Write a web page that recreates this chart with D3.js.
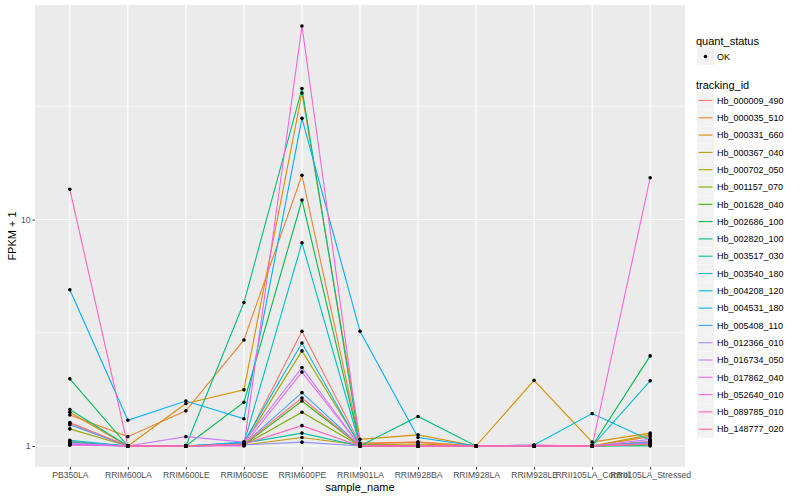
<!DOCTYPE html>
<html>
<head>
	<script type="text/javascript" src="https://cdn.jsdelivr.net/npm/d3@7"></script>
	<style type="text/css">
		body { margin: 0; background: white; }
		text { font-family: "Liberation Sans", Arial, sans-serif; }
		.axis text { font-size: 8.6px; fill: #4D4D4D; }
		.axis line { stroke: #333333; }
		.axis path { display: none; }
	</style>
</head>
<body>
	<script type="text/javascript">
		// samples on the x axis
		var samples = ["PB350LA", "RRIM600LA", "RRIM600LE", "RRIM600SE", "RRIM600PE", "RRIM901LA",
			"RRIM928BA", "RRIM928LA", "RRIM928LE", "RRII105LA_Control", "RRII105LA_Stressed"];

		var tracking_ids = ["Hb_000009_490", "Hb_000035_510", "Hb_000331_660", "Hb_000367_040", "Hb_000702_050",
			"Hb_001157_070", "Hb_001628_040", "Hb_002686_100", "Hb_002820_100", "Hb_003517_030",
			"Hb_003540_180", "Hb_004208_120", "Hb_004531_180", "Hb_005408_110", "Hb_012366_010",
			"Hb_016734_050", "Hb_017862_040", "Hb_052640_010", "Hb_089785_010", "Hb_148777_020"];

		var colors = ["#F8766D", "#EA8331", "#D89000", "#C09B00", "#A3A500", "#7CAE00", "#39B600", "#00BB4E",
			"#00BF7D", "#00C1A3", "#00BFC4", "#00BAE0", "#00B0F6", "#35A2FF", "#9590FF", "#C77CFF",
			"#E76BF3", "#FA62DB", "#FF62BC", "#FF6C91"];

		// FPKM + 1, one array per tracking_id, in sample order
		var fpkm = [
			[1.26, 1, 1, 1.02, 3.21, 1.02, 1.04, 1, 1, 1, 1.05],
			[1.37, 1.10, 1.43, 2.94, 15.7, 1.03, 1.04, 1, 1, 1, 1.10],
			[1.41, 1, 1.54, 1.77, 36.2, 1.07, 1.12, 1, 1.95, 1.04, 1.14],
			[1.05, 1, 1, 1.01, 1.09, 1.01, 1.02, 1, 1, 1, 1.12],
			[1.19, 1, 1, 1.02, 2.63, 1.01, 1, 1, 1, 1, 1.03],
			[1.02, 1, 1, 1.01, 1.41, 1, 1, 1, 1, 1, 1.01],
			[1.03, 1, 1, 1.01, 1.58, 1, 1, 1, 1, 1, 1.02],
			[1.98, 1, 1, 1.56, 12.2, 1.01, 1, 1, 1, 1, 2.5],
			[1.45, 1, 1, 4.3, 37.9, 1, 1.35, 1, 1, 1, 1.0],
			[1.04, 1, 1, 1.03, 1.14, 1, 1, 1, 1, 1, 1.02],
			[1.02, 1, 1, 1.03, 7.9, 1, 1, 1, 1, 1, 1.94],
			[1.06, 1, 1, 1.04, 2.85, 1, 1, 1, 1.01, 1.39, 1.06],
			[4.9, 1.3, 1.58, 1.32, 28.0, 3.21, 1.09, 1, 1, 1, 1.03],
			[1.24, 1, 1, 1.02, 1.72, 1, 1, 1, 1, 1, 1.04],
			[1.01, 1, 1, 1.01, 1.04, 1, 1, 1, 1, 1, 1.03],
			[1.03, 1, 1.1, 1.04, 2.22, 1, 1, 1, 1, 1, 1.07],
			[1.02, 1, 1, 1.01, 2.12, 1, 1, 1, 1, 1, 1.02],
			[1.01, 1, 1, 1.0, 71.6, 1, 1, 1, 1.01, 1, 15.3],
			[13.6, 1, 1, 1.02, 1.23, 1, 1, 1, 1, 1, 1.02],
			[1.27, 1, 1, 1.02, 1.63, 1, 1, 1, 1, 1, 1.02]
		];

		var yTicks = [1, 10];
		var yMinor = [Math.sqrt(10), Math.sqrt(1000)];

		var panel = {left: 35, right: 685, top: 5, bottom: 467};

		var svg = d3.select("body")
			.append("svg")
			.attr("width", 800)
			.attr("height", 500);

		// ggplot style expansion: 5% on log scale, 0.6 units on discrete
		var allVals = [].concat.apply([], fpkm);
		var lmin = Math.log10(d3.min(allVals)), lmax = Math.log10(d3.max(allVals));
		var lpad = (lmax - lmin) * 0.05;

		var yScale = d3.scaleLog()
			.domain([Math.pow(10, lmin - lpad), Math.pow(10, lmax + lpad)])
			.range([panel.bottom, panel.top]);

		var xScale = d3.scalePoint()
			.domain(samples)
			.range([panel.left, panel.right])
			.padding(0.6);

		svg.append("rect")
			.attr("x", panel.left)
			.attr("y", panel.top)
			.attr("width", panel.right - panel.left)
			.attr("height", panel.bottom - panel.top)
			.style("fill", "#EBEBEB");

		svg.selectAll(".yminor")
			.data(yMinor)
			.enter().append("line")
			.attr("x1", panel.left).attr("x2", panel.right)
			.attr("y1", function(d){ return yScale(d); })
			.attr("y2", function(d){ return yScale(d); })
			.style("stroke", "white").style("stroke-width", 0.55);

		svg.selectAll(".ymajor")
			.data(yTicks)
			.enter().append("line")
			.attr("x1", panel.left).attr("x2", panel.right)
			.attr("y1", function(d){ return yScale(d); })
			.attr("y2", function(d){ return yScale(d); })
			.style("stroke", "white").style("stroke-width", 1.1);

		svg.selectAll(".xmajor")
			.data(samples)
			.enter().append("line")
			.attr("x1", function(d){ return xScale(d); })
			.attr("x2", function(d){ return xScale(d); })
			.attr("y1", panel.top).attr("y2", panel.bottom)
			.style("stroke", "white").style("stroke-width", 1.1);

		var line = d3.line()
			.x(function(d, i){ return xScale(samples[i]); })
			.y(function(d){ return yScale(d); });

		svg.selectAll(".series")
			.data(fpkm)
			.enter().append("path")
			.attr("d", function(d){ return line(d); })
			.style("fill", "none")
			.style("stroke", function(d, i){ return colors[i]; })
			.style("stroke-width", 1.1);

		fpkm.forEach(function(vals){
			svg.selectAll(null)
				.data(vals)
				.enter().append("circle")
				.attr("cx", function(d, i){ return xScale(samples[i]); })
				.attr("cy", function(d){ return yScale(d); })
				.attr("r", 1.8)
				.style("fill", "black");
		});

		var yaxis = d3.axisLeft(yScale)
			.tickValues(yTicks)
			.tickFormat(d3.format("d"))
			.tickSize(2.5)
			.tickPadding(2);

		svg.append("g")
			.attr("class", "axis")
			.attr("transform", "translate(" + panel.left + ",0)")
			.call(yaxis);

		var xaxis = d3.axisBottom(xScale)
			.tickSize(2.5)
			.tickPadding(2);

		svg.append("g")
			.attr("class", "axis")
			.attr("transform", "translate(0," + panel.bottom + ")")
			.call(xaxis);

		svg.append("text")
			.attr("x", (panel.left + panel.right) / 2)
			.attr("y", 491)
			.attr("text-anchor", "middle")
			.style("font-size", "11px")
			.text("sample_name");

		svg.append("text")
			.attr("transform", "translate(16," + ((panel.top + panel.bottom) / 2) + ") rotate(-90)")
			.attr("text-anchor", "middle")
			.style("font-size", "11px")
			.text("FPKM + 1");

		// legends
		var lg = svg.append("g");
		lg.append("text").attr("x", 696).attr("y", 44.5).style("font-size", "11px").text("quant_status");
		lg.append("rect").attr("x", 697).attr("y", 48).attr("width", 17).attr("height", 17).style("fill", "#F2F2F2");
		lg.append("circle").attr("cx", 705.5).attr("cy", 56.5).attr("r", 1.8).style("fill", "black");
		lg.append("text").attr("x", 717).attr("y", 59.8).style("font-size", "9px").text("OK");

		lg.append("text").attr("x", 696).attr("y", 88.5).style("font-size", "11px").text("tracking_id");

		var keys = lg.selectAll(".key")
			.data(tracking_ids)
			.enter().append("g")
			.attr("transform", function(d, i){ return "translate(697," + (92 + i * 17.3) + ")"; });

		keys.append("rect").attr("width", 17).attr("height", 17).style("fill", "#F2F2F2");
		keys.append("line")
			.attr("x1", 1.5).attr("x2", 15.5).attr("y1", 8.5).attr("y2", 8.5)
			.style("stroke", function(d, i){ return colors[i]; })
			.style("stroke-width", 1.1);
		keys.append("text")
			.attr("x", 20).attr("y", 11.8)
			.style("font-size", "9px")
			.text(function(d){ return d; });
	</script>
</body>
</html>
